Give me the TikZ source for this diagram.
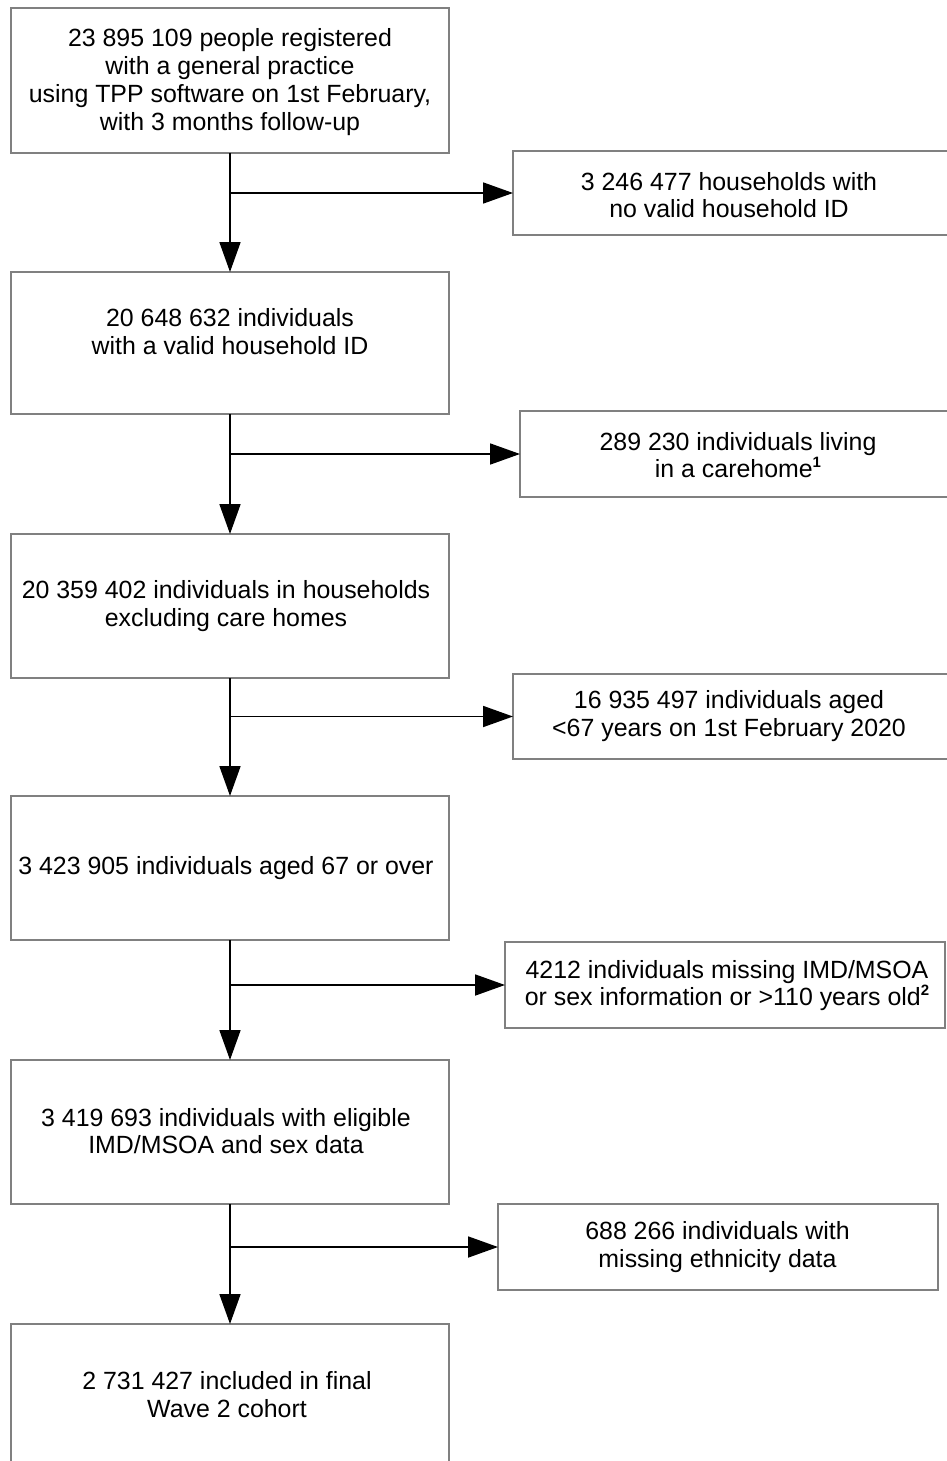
\documentclass[tikz,border=0pt]{standalone}
\usepackage{fontspec}
\setmainfont{Liberation Sans}
\usetikzlibrary{arrows.meta}
\definecolor{boxgray}{RGB}{128,128,128}
\newcommand{\supmark}[1]{\raisebox{0.42em}{\fontsize{15}{15}\selectfont\bfseries #1}}
\begin{document}
\begin{tikzpicture}[x=1pt,y=-1pt,
  box/.style={draw=boxgray, line width=1.4pt, rectangle, inner sep=0pt, outer sep=0pt, fill=white},
  txt/.style={align=center, inner sep=0pt, font=\fontsize{24.9}{27.8}\selectfont},
  conn/.style={draw=black, line width=1.8pt},
  arr/.style={conn, -{Triangle[length=30pt,width=21pt]}}]
\useasboundingbox (0,0) rectangle (947,1461);
\clip (0,0) rectangle (947,1461);
\fill[white] (0,0) rectangle (947,1461);
% left column boxes
\node[box, minimum width=438pt, minimum height=145pt] (b1) at (230,80.5) {};
\node[box, minimum width=438pt, minimum height=142pt] (b2) at (230,343) {};
\node[box, minimum width=438pt, minimum height=144pt] (b3) at (230,606) {};
\node[box, minimum width=438pt, minimum height=144pt] (b4) at (230,868) {};
\node[box, minimum width=438pt, minimum height=144pt] (b5) at (230,1132) {};
\node[box, minimum width=438pt, minimum height=144pt] (b6) at (230,1396) {};
% right column boxes
\node[box, minimum width=442pt, minimum height=84pt] (r1) at (734,193) {};
\node[box, minimum width=440pt, minimum height=86pt] (r2) at (740,454) {};
\node[box, minimum width=442pt, minimum height=85pt] (r3) at (734,716.5) {};
\node[box, minimum width=440pt, minimum height=86pt] (r4) at (725,985) {};
\node[box, minimum width=440pt, minimum height=86pt] (r5) at (718,1247) {};
% texts
\node[txt] (t1) at (230,82) {23 895 109 people registered\\with a general practice\\using TPP software on 1st February,\\with 3 months follow-up};
\node[txt] (t2) at (230,331.5) {20 648 632 individuals\\with a valid household ID};
\node[txt] (t3) at (226,606) {20 359 402 individuals in households\\excluding care homes};
\node[txt] (t4) at (226,868) {3 423 905 individuals aged 67 or over};
\node[txt] (t5) at (226,1131) {3 419 693 individuals with eligible\\IMD/MSOA and sex data};
\node[txt] (t6) at (227,1394.5) {2 731 427 included in final\\Wave 2 cohort};
\node[txt] (s1) at (729,195) {3 246 477 households with\\no valid household ID};
\node[txt] (s2) at (738,455) {289 230 individuals living\\in a carehome\supmark{1}};
\node[txt] (s3) at (729,716) {16 935 497 individuals aged\\<67 years on 1st February 2020};
\node[txt] (s4) at (727,985.5) {4212 individuals missing IMD/MSOA\\or sex information or >110 years old\supmark{2}};
\node[txt] (s5) at (717.5,1247) {688 266 individuals with\\missing ethnicity data};
% junctions
\coordinate (j1) at (b1.south |- r1.west);
\coordinate (j2) at (b2.south |- r2.west);
\coordinate (j3) at (b3.south |- r3.west);
\coordinate (j4) at (b4.south |- r4.west);
\coordinate (j5) at (b5.south |- r5.west);
% connectors
\draw[arr] (b1.south) -- (b2.north);
\draw[arr] (b2.south) -- (b3.north);
\draw[arr] (b3.south) -- (b4.north);
\draw[arr] (b4.south) -- (b5.north);
\draw[arr] (b5.south) -- (b6.north);
\draw[arr] (j1) -- (r1.west);
\draw[arr] (j2) -- (r2.west);
\draw[arr] (j3) -- (r3.west);
\draw[arr] (j4) -- (r4.west);
\draw[arr] (j5) -- (r5.west);
\end{tikzpicture}
\end{document}
